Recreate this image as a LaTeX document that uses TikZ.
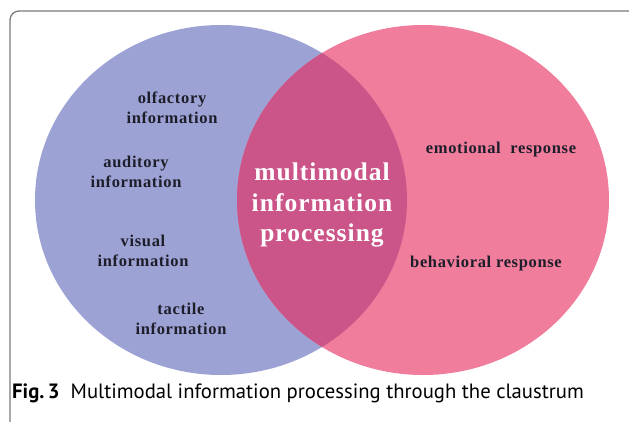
\documentclass[tikz,border=0pt]{standalone}
\usepackage{fontspec}
\setmainfont{Liberation Serif}
\newfontfamily\labelfont[LetterSpace=4]{Liberation Serif}
\newfontfamily\capfont{PT Sans}
\definecolor{sensblue}{HTML}{9DA2D4}
\definecolor{resppink}{HTML}{F07D9C}
\definecolor{lensmix}{HTML}{CB5588}
\definecolor{framegray}{HTML}{7A7A7A}
\definecolor{inkdark}{HTML}{1E1E2A}
\begin{document}
\begin{tikzpicture}[x=1pt,y=-1pt,
  item/.style={font=\labelfont\bfseries\fontsize{16.5}{19.5}\selectfont, text=inkdark, align=center, inner sep=0pt},
  core/.style={font=\labelfont\bfseries\fontsize{25.5}{30.5}\selectfont, text=white, align=center, inner sep=0pt}]
\useasboundingbox (0,0) rectangle (629,421);
\begin{scope}
  \clip (0,0) rectangle (629,421);
  \draw[framegray, line width=1.3pt, rounded corners=9pt] (10,11) rectangle (640,440);
\end{scope}
% two overlapping sets
\fill[sensblue] (221,200) ellipse [x radius=186, y radius=175];
\fill[resppink] (423,200) ellipse [x radius=186, y radius=175];
\begin{scope}
  \clip (221,200) ellipse [x radius=186, y radius=175];
  \fill[lensmix] (423,200) ellipse [x radius=186, y radius=175];
\end{scope}
% sensory inputs
\node[item] (olf) at (172,108) {olfactory\\information};
\node[item] (aud) at (136,172) {auditory\\information};
\node[item] (vis) at (143,251) {visual\\information};
\node[item] (tac) at (181,319) {tactile\\information};
% responses
\node[item] (emo) at (501,150) {emotional\ \ response};
\node[item] (beh) at (486,264) {behavioral response};
% overlap
\node[core] (mmp) at (322,205) {multimodal\\information\\processing};
% caption
\node[anchor=west, inner sep=0pt, font=\capfont\fontsize{20.7}{24}\selectfont] (cap) at (12,393)
  {\textbf{Fig.\,3}\ \ Multimodal information processing through the claustrum};
\end{tikzpicture}
\end{document}
